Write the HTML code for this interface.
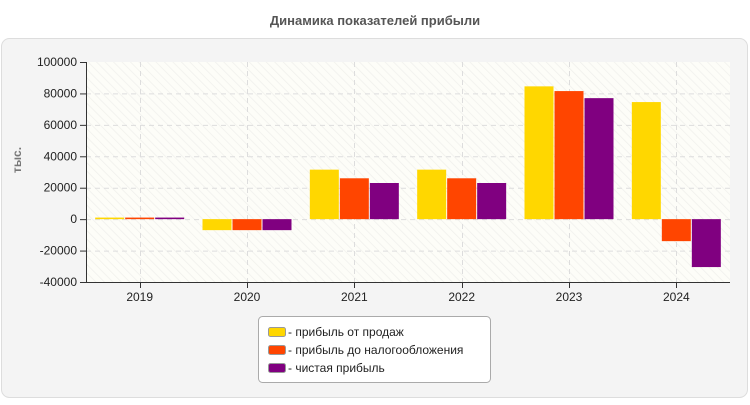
<!DOCTYPE html>
<html><head><meta charset="utf-8"><style>
body{margin:0;background:#fff;font-family:"Liberation Sans",sans-serif;}
</style></head><body>
<svg width="750" height="400" xmlns="http://www.w3.org/2000/svg" style="font-family:'Liberation Sans',sans-serif">
<defs><pattern id="hatch" width="6" height="6" patternUnits="userSpaceOnUse" patternTransform="rotate(-45)"><rect width="6" height="6" fill="#fdfdf8"/><line x1="0" y1="0" x2="0" y2="6" stroke="#f0f0ec" stroke-width="1.5"/></pattern></defs>
<text x="375" y="25" text-anchor="middle" font-size="13" font-weight="bold" fill="#555">Динамика показателей прибыли</text>
<rect x="1.5" y="38.5" width="746" height="359" rx="8" fill="#f4f4f4" stroke="#ddd"/>
<rect x="86" y="62" width="644" height="220" fill="url(#hatch)"/>
<g id="grid"></g><g id="bars"></g><g id="axes"></g>
<text transform="translate(21,160) rotate(-90)" text-anchor="middle" font-size="12" font-weight="bold" fill="#777">тыс.</text>
<g>
<rect x="258.5" y="316.5" width="232" height="66" rx="4" fill="#fff" stroke="#aaa"/>
<rect x="268.5" y="327.5" width="17" height="9" rx="2" fill="#ffd700" stroke="#999"/>
<text x="288" y="336" font-size="12" fill="#222">- прибыль от продаж</text>
<rect x="268.5" y="345.5" width="17" height="9" rx="2" fill="#ff4500" stroke="#999"/>
<text x="288" y="354" font-size="12" fill="#222">- прибыль до налогообложения</text>
<rect x="268.5" y="363.5" width="17" height="9" rx="2" fill="#800080" stroke="#999"/>
<text x="288" y="372" font-size="12" fill="#222">- чистая прибыль</text>
</g>
</svg>
<script>
const categories=["2019","2020","2021","2022","2023","2024"];
const salesProfit=[1000,-7000,31500,31500,84500,74500];
const pretaxProfit=[1000,-7000,26000,26000,81500,-14000];
const netProfit=[1000,-7000,23000,23000,77000,-30500];
const yTicks=[100000,80000,60000,40000,20000,0,-20000,-40000];
const NS="http://www.w3.org/2000/svg";
const L=86,R=730,T=62,B=282,yMax=100000,yMin=-40000;
const y=v=>T+(yMax-v)*(B-T)/(yMax-yMin);
const bw=(R-L)/categories.length;
const xc=i=>L+bw*(i+0.5);
function mk(tag,attrs,parent){const e=document.createElementNS(NS,tag);for(const k in attrs)e.setAttribute(k,attrs[k]);document.getElementById(parent).appendChild(e);return e;}
yTicks.forEach(t=>{
 if(t!==yMax&&t!==yMin){const g=mk('line',{x1:L,x2:R,y1:y(t)+0.5,y2:y(t)+0.5,stroke:'#ddd','stroke-dasharray':'5,4'},'grid');
 
 }
 const tk=mk('line',{x1:L-6,x2:L,y1:y(t)+0.5,y2:y(t)+0.5,stroke:'#333'},'axes');
 
 
 const tx=mk('text',{x:L-9,y:y(t)+4,'text-anchor':'end','font-size':12,fill:'#222'},'axes');
 tx.textContent=t;
 
 
});
categories.forEach((c,i)=>{
 const g=mk('line',{x1:Math.round(xc(i))+0.5,x2:Math.round(xc(i))+0.5,y1:T,y2:B,stroke:'#ddd','stroke-dasharray':'5,4'},'grid');
 
 
 const tk=mk('line',{x1:Math.round(xc(i))+0.5,x2:Math.round(xc(i))+0.5,y1:B,y2:B+6,stroke:'#333'},'axes');
 
 
 const tx=mk('text',{x:xc(i),y:B+19,'text-anchor':'middle','font-size':12,fill:'#222'},'axes');
 tx.textContent=c;
 
 
});
const series=[[salesProfit,'#ffd700','sales'],[pretaxProfit,'#ff4500','pretax'],[netProfit,'#800080','net']];
series.forEach(([vals,col,nm],s)=>{
 vals.forEach((v,i)=>{
  const x0=xc(i)-44.5+s*30;
  const y0=Math.min(y(v),y(0)),h=Math.max(Math.abs(y(v)-y(0)),1.5);
  const r=mk('rect',{x:x0,y:y0,width:29,height:h,fill:col},'bars');
  
  
 });
});
const ax1=mk('line',{x1:L+0.5,x2:L+0.5,y1:T,y2:B,stroke:'#333'},'axes');


const ax2=mk('line',{x1:L,x2:R,y1:B+0.5,y2:B+0.5,stroke:'#333'},'axes');


</script>
</body></html>
